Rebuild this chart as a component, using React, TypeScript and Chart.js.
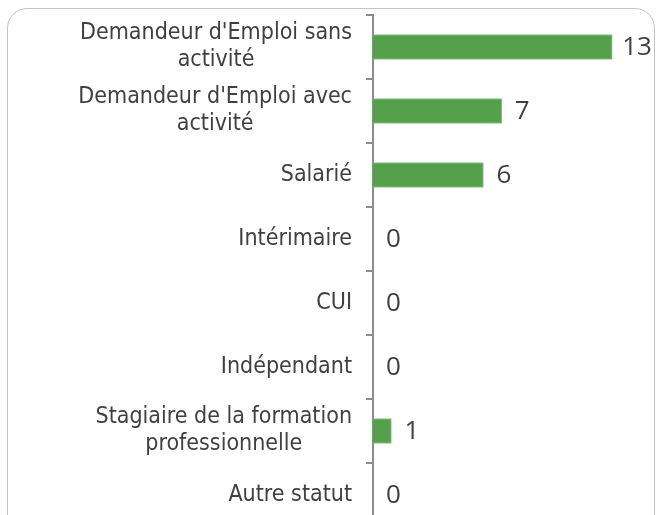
import React, { useEffect, useRef } from "react";
import { Chart, registerables } from "chart.js";

Chart.register(...registerables);

const categories: string[][] = [
  ["Demandeur d'Emploi sans", "activité"],
  ["Demandeur d'Emploi avec", "activité"],
  ["Salarié"],
  ["Intérimaire"],
  ["CUI"],
  ["Indépendant"],
  ["Stagiaire de la formation", "professionnelle"],
  ["Autre statut"],
];
const values: number[] = [13, 7, 6, 0, 0, 0, 1, 0];

const AXIS_X = 373;
const CAT_FONT = '23px "DejaVu Sans Condensed", "DejaVu Sans", sans-serif';
const VAL_FONT = '26px "Open Sans", sans-serif';
const LINE_H = 27;

const labelPlugin = {
  id: "customLabels",
  afterDraw(chart: any) {
    const ctx = chart.ctx;
    const ys = chart.scales.y;
    const xs = chart.scales.x;
    ctx.save();
    ctx.fillStyle = "#404040";
    ctx.textBaseline = "middle";
    ctx.font = CAT_FONT;
    ctx.textAlign = "center";
    const right = ys.right - 21;
    categories.forEach((lines, i) => {
      const cy = ys.getPixelForValue(i);
      const w = Math.max(...lines.map((l) => ctx.measureText(l).width));
      const cx = right - w / 2;
      lines.forEach((l, j) => {
        ctx.fillText(l, cx, cy + (j - (lines.length - 1) / 2) * LINE_H);
      });
    });
    ctx.font = VAL_FONT;
    ctx.textAlign = "left";
    values.forEach((v, i) => {
      const px = xs.getPixelForValue(v);
      ctx.fillText(String(v), px + (v >= 10 ? 10 : 13), ys.getPixelForValue(i) + 1);
    });
    ctx.restore();
  },
};

export default function App() {
  const ref = useRef<HTMLCanvasElement>(null);
  useEffect(() => {
    if (!ref.current) return;
    const chart = new Chart(ref.current, {
      type: "bar",
      data: {
        labels: categories.map((c) => c.join(" ")),
        datasets: [
          {
            data: values,
            backgroundColor: "#55A04C",
            borderColor: "#8CCB84",
            borderWidth: 1,
            barThickness: 25,
          },
        ],
      },
      options: {
        indexAxis: "y",
        animation: false,
        responsive: false,
        layout: { padding: { top: 15, right: 7, bottom: 13, left: 0 } },
        plugins: { legend: { display: false }, tooltip: { enabled: false } },
        scales: {
          x: { display: false, min: 0, max: 15 },
          y: {
            afterFit: (s: any) => {
              s.width = AXIS_X;
            },
            ticks: { display: false },
            grid: {
              drawOnChartArea: false,
              drawTicks: true,
              tickLength: 7,
              color: "#8c8c8c",
              lineWidth: 2,
              offset: true,
            },
            border: { display: true, color: "#8c8c8c", width: 2 },
          },
        },
      },
      plugins: [labelPlugin],
    });
    return () => chart.destroy();
  }, []);
  return (
    <div style={{ position: "absolute", left: 0, top: 0, width: 656, height: 540 }}>
      <div
        style={{
          position: "absolute",
          left: 7,
          top: 8,
          width: 648,
          height: 560,
          border: "1.5px solid #c4c4c4",
          borderRadius: 20,
          boxSizing: "border-box",
        }}
      />
      <canvas
        ref={ref}
        width={656}
        height={540}
        style={{ position: "absolute", left: 0, top: 0, display: "block" }}
      />
    </div>
  );
}
